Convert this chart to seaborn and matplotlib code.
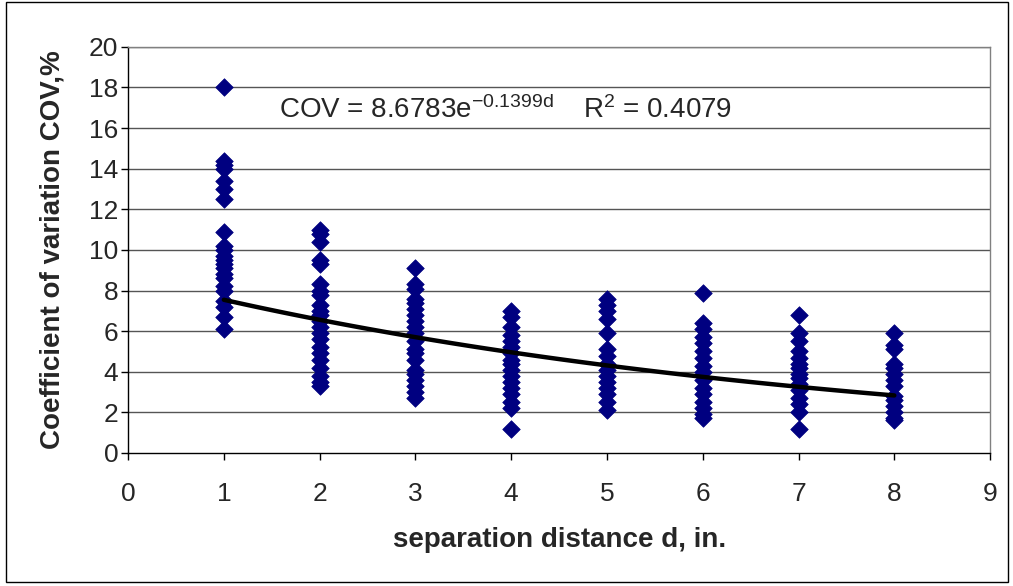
import numpy as np
import pandas as pd
import matplotlib
matplotlib.use("Agg")
import matplotlib.pyplot as plt
import seaborn as sns
from matplotlib.patches import Rectangle

# ---- data ----
cov_d1 = [18.0, 14.4, 14.2, 14.0, 13.4, 13.0, 12.5, 10.9, 10.2, 10.0, 9.7, 9.5,
          9.3, 9.1, 8.8, 8.6, 8.2, 8.0, 7.5, 7.2, 6.7, 6.1]
cov_d2 = [11.0, 10.8, 10.4, 9.5, 9.3, 8.3, 8.0, 7.8, 7.3, 7.0, 6.8, 6.5, 6.2,
          5.9, 5.6, 5.2, 4.9, 4.6, 4.2, 3.8, 3.5, 3.3]
cov_d3 = [9.1, 8.3, 8.1, 7.6, 7.4, 7.1, 6.8, 6.5, 6.2, 5.9, 5.5, 5.1, 4.9, 4.6,
          4.1, 3.9, 3.6, 3.3, 3.0, 2.7]
cov_d4 = [7.0, 6.7, 6.2, 5.8, 5.5, 5.2, 4.9, 4.6, 4.4, 4.1, 3.8, 3.5, 3.2, 2.9,
          2.5, 2.2, 1.2]
cov_d5 = [7.6, 7.3, 7.0, 6.6, 5.9, 5.1, 4.8, 4.4, 4.1, 3.8, 3.5, 3.2, 2.9, 2.5, 2.1]
cov_d6 = [7.9, 6.4, 6.1, 5.7, 5.4, 5.0, 4.7, 4.3, 4.0, 3.6, 3.2, 2.9, 2.5, 2.2,
          1.9, 1.7]
cov_d7 = [6.8, 5.9, 5.5, 5.0, 4.7, 4.4, 4.2, 3.9, 3.7, 3.4, 3.1, 2.7, 2.4, 2.0, 1.2]
cov_d8 = [5.9, 5.3, 5.1, 4.4, 4.2, 3.9, 3.6, 3.3, 2.8, 2.6, 2.3, 2.0, 1.7, 1.6]
distances = [1, 2, 3, 4, 5, 6, 7, 8]

fit_a = 8.6783
fit_b = -0.1399
r_squared = 0.4079

columns = [cov_d1, cov_d2, cov_d3, cov_d4, cov_d5, cov_d6, cov_d7, cov_d8]
df = pd.DataFrame({
    "d": np.concatenate([[d] * len(c) for d, c in zip(distances, columns)]),
    "cov": np.concatenate(columns),
})

sns.set_theme(style="white")
plt.rcParams["font.family"] = ["Liberation Sans", "DejaVu Sans"]
plt.rcParams["mathtext.fontset"] = "custom"
plt.rcParams["mathtext.rm"] = "Liberation Sans"
plt.rcParams["mathtext.it"] = "Liberation Sans"

fig = plt.figure(figsize=(10.13, 5.86), dpi=100)
ax = fig.add_axes([0.1264, 0.227, 0.851, 0.693])

# gridlines
for yv in range(2, 21, 2):
    ax.axhline(yv, color="#555555", lw=1.0, zorder=0)

sns.scatterplot(data=df, x="d", y="cov", marker="D", s=80, color="#000080",
                edgecolor="#000080", linewidth=0.5, ax=ax, zorder=3, legend=False)

xfit = np.linspace(1, 8, 100)
sns.lineplot(x=xfit, y=fit_a * np.exp(fit_b * xfit), color="black", lw=3.2,
             ax=ax, zorder=4)

ax.set_xlim(0, 9)
ax.set_ylim(0, 20)
ax.set_xticks(range(0, 10))
ax.set_yticks(range(0, 21, 2))
ax.tick_params(axis="both", labelsize=19, direction="out", length=5, width=1,
               color="black", bottom=True, left=True)
ax.tick_params(axis="x", pad=16)
ax.tick_params(axis="y", pad=2)

for side in ["left", "bottom"]:
    ax.spines[side].set_color("black")
    ax.spines[side].set_linewidth(1.0)
for side in ["top", "right"]:
    ax.spines[side].set_color("#808080")
    ax.spines[side].set_linewidth(1.0)

ax.set_xlabel("separation distance d, in.", fontsize=20, fontweight="bold")
ax.set_ylabel("Coefficient of variation COV,%", fontsize=20, fontweight="bold")
ax.xaxis.set_label_coords(0.5, -0.214)
ax.yaxis.set_label_coords(-0.088, 0.5)
ax.xaxis.label.set_va("center")
ax.yaxis.label.set_va("center")

ax.text(1.58, 16.9, r"COV = %.4fe$^{\mathrm{%.4fd}}$" % (fit_a, fit_b),
        fontsize=20, ha="left", va="center")
ax.text(4.75, 16.9, r"R$^{\mathrm{2}}$ = %.4f" % r_squared,
        fontsize=20, ha="left", va="center")

fig.patches.append(Rectangle((0.006, 0.006), 0.989, 0.99, transform=fig.transFigure,
                             fill=False, edgecolor="black", lw=1.0))

fig.savefig("out.png", dpi=100)
